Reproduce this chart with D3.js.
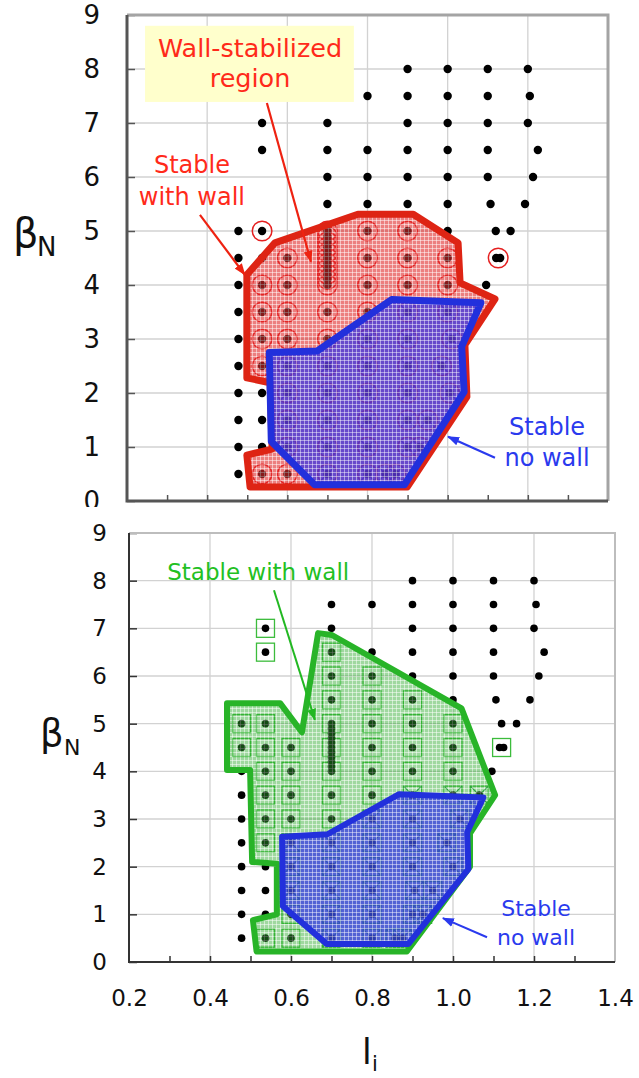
<!DOCTYPE html>
<html><head><meta charset="utf-8">
<script src="https://cdn.jsdelivr.net/npm/d3@7"></script>
<style>
body{margin:0;background:#fff}
svg{display:block}
text{font-family:'DejaVu Sans',Verdana,sans-serif}
</style>
</head><body>
<svg id="c" width="639" height="1078"></svg>
<script>
// ---------- shared ticks ----------
const xTicks = [0.2, 0.4, 0.6, 0.8, 1.0, 1.2, 1.4];
const xMinorTicks = [0.3, 0.4, 0.5, 0.6, 0.7, 0.8, 0.9, 1.0, 1.1, 1.2, 1.3];
const yTicks = [0, 1, 2, 3, 4, 5, 6, 7, 8, 9];

// ---------- top panel data ----------
const topUnstable = [
  [0.9,8],[1.0,8],[1.1,8],[1.2,8],
  [0.8,7.5],[0.9,7.5],[1.0,7.5],[1.1,7.5],[1.205,7.5],
  [0.537,7],[0.7,7],[0.9,7],[1.0,7],[1.1,7],[1.2,7],
  [0.537,6.5],[0.7,6.5],[0.8,6.5],[0.9,6.5],[1.0,6.5],[1.1,6.5],[1.225,6.5],
  [0.7,6],[0.8,6],[0.9,6],[1.0,6],[1.1,6],[1.213,6],
  [0.7,5.5],[0.8,5.5],[0.9,5.5],[1.0,5.5],[1.107,5.5],[1.193,5.5],
  [0.478,5],[1.0,5],[1.12,5],[1.157,5],
  [0.478,4.5],[0.537,4.5],
  [0.478,4],[1.096,4],
  [0.478,3.5],[0.478,3],[0.478,2.5],[0.478,2],[0.478,1.5],[0.478,1],[0.478,0.5],
  [0.537,2],[0.537,1.5],[0.537,1]
];
const topPairDots = [[1.121,4.5],[1.131,4.5]];
const topWallStable = [
  [0.537,5],[0.8,5],[0.9,5],
  [0.6,4.5],[0.8,4.5],[0.9,4.5],[1.0,4.5],[1.126,4.5],
  [0.7,4.0],[0.7,4.1],[0.7,4.2],[0.7,4.3],[0.7,4.4],[0.7,4.5],[0.7,4.6],[0.7,4.7],[0.7,4.8],[0.7,4.9],[0.7,5.0],
  [0.537,4],[0.6,4],[0.8,4],[0.9,4],[1.0,4],
  [0.537,3.5],[0.6,3.5],[0.7,3.5],[0.8,3.5],
  [0.537,3],[0.6,3],[0.7,3],
  [0.537,2.5],
  [0.537,0.5],[0.6,0.5]
];
const topNoWallStable = [
  [0.9,3.5],[1.0,3.5],
  [0.8,3],[0.9,3],[1.01,3],
  [0.6,2.5],[0.7,2.5],[0.8,2.5],[0.9,2.5],[0.985,2.5],
  [0.6,2],[0.7,2],[0.8,2],[0.9,2],[1.005,2],
  [0.6,1.5],[0.7,1.5],[0.8,1.5],[0.9,1.5],[0.95,1.5],
  [0.6,1],[0.7,1],[0.8,1],[0.9,1],[0.93,1],
  [0.7,0.5],[0.8,0.5],[0.845,0.5],[0.87,0.5]
];
const topWallRegion = [
  [0.499,4.19],[0.569,4.78],[0.776,5.31],[0.914,5.31],[1.026,4.78],[1.031,4.04],
  [1.118,3.74],[1.043,2.89],[1.048,1.93],[0.899,0.26],[0.507,0.26],[0.499,0.85],
  [0.562,0.96],[0.557,2.19],[0.499,2.28]
];
const topNoWallRegion = [
  [0.555,2.75],[0.675,2.78],[0.86,3.73],[1.083,3.67],[1.035,2.86],[1.041,2.02],
  [0.892,0.3],[0.668,0.3],[0.56,1.1]
];

// ---------- bottom panel data ----------
const botUnstable = [
  [0.9,8],[1.0,8],[1.1,8],[1.2,8],
  [0.7,7.5],[0.8,7.5],[0.9,7.5],[1.0,7.5],[1.1,7.5],[1.205,7.5],
  [0.7,7],[0.9,7],[1.0,7],[1.1,7],[1.2,7],
  [0.8,6.5],[0.9,6.5],[1.0,6.5],[1.1,6.5],[1.225,6.5],
  [0.9,6],[1.0,6],[1.1,6],[1.212,6],
  [1.0,5.5],[1.106,5.5],[1.19,5.5],
  [1.12,5],[1.157,5],
  [0.478,4],[1.096,4],
  [0.478,3.5],[0.478,3],[0.478,2.5],[0.478,2],[0.478,1.5],[0.478,1],[0.478,0.5],
  [0.537,2],[0.537,1.5],[0.537,1]
];
const botStackDots = [
  [0.7,4.1],[0.7,4.2],[0.7,4.3],[0.7,4.4],[0.7,4.6],[0.7,4.7],[0.7,4.8],[0.7,4.9],
  [1.115,4.5],[1.125,4.5]
];
const botWallStable = [
  [0.537,7],[0.537,6.5],
  [0.7,6.5],
  [0.7,6],[0.8,6],
  [0.7,5.5],[0.8,5.5],[0.9,5.5],
  [0.478,5],[0.537,5],[0.7,5],[0.8,5],[0.9,5],[1.0,5],
  [0.478,4.5],[0.537,4.5],[0.6,4.5],[0.7,4.5],[0.8,4.5],[0.9,4.5],[1.0,4.5],[1.12,4.5],
  [0.537,4],[0.6,4],[0.7,4],[0.8,4],[0.9,4],[1.0,4],
  [0.537,3.5],[0.6,3.5],[0.7,3.5],[0.8,3.5],
  [0.537,3],[0.6,3],[0.7,3],
  [0.537,2.5],
  [0.6,1],
  [0.537,0.5],[0.6,0.5]
];
const botNoWallStable = [
  [0.9,3.5],[1.0,3.5],[1.065,3.5],
  [0.8,3],[0.9,3],[1.017,3],
  [0.6,2.5],[0.7,2.5],[0.8,2.5],[0.9,2.5],[0.985,2.5],
  [0.6,2],[0.7,2],[0.8,2],[0.9,2],[1.0,2],
  [0.6,1.5],[0.7,1.5],[0.8,1.5],[0.905,1.5],[0.95,1.5],
  [0.7,1],[0.8,1],[0.9,1],[0.925,1],
  [0.7,0.5],[0.8,0.5],[0.857,0.5],[0.875,0.5]
];
const botWallRegion = [
  [0.442,5.43],[0.573,5.43],[0.627,4.82],[0.667,6.9],[0.701,6.86],[1.021,5.32],
  [1.104,3.5],[1.042,2.7],[1.042,2.0],[0.886,0.22],[0.515,0.22],[0.506,0.88],
  [0.565,1.0],[0.565,2.06],[0.504,2.1],[0.499,4.03],[0.442,4.03]
];
const botNoWallRegion = [
  [0.578,2.63],[0.69,2.68],[0.867,3.52],[1.075,3.45],[1.035,2.72],[1.038,1.95],
  [0.89,0.38],[0.688,0.38],[0.58,1.17]
];

// ---------- drawing ----------
const svg = d3.select('#c');
const defs = svg.append('defs');

function makePattern(id, color, lineOpacity) {
  const p = defs.append('pattern').attr('id', id)
    .attr('width', 4).attr('height', 4).attr('patternUnits', 'userSpaceOnUse');
  p.append('rect').attr('width', 4).attr('height', 4).attr('fill', color);
  p.append('path').attr('d', 'M0,0.5H4M0.5,0V4')
    .attr('stroke', '#fff').attr('stroke-width', 1).attr('stroke-opacity', lineOpacity);
}
makePattern('patRed', '#e02a2a', 0.5);
makePattern('patBlue', '#3434e8', 0.45);
makePattern('patGreen', '#2aa82a', 0.5);

function makeArrow(id, color) {
  defs.append('marker').attr('id', id)
    .attr('viewBox', '0 0 12 10').attr('refX', 11).attr('refY', 5)
    .attr('markerWidth', 12).attr('markerHeight', 10)
    .attr('markerUnits', 'userSpaceOnUse').attr('orient', 'auto')
    .append('path').attr('d', 'M0,0.5L12,5L0,9.5Z').attr('fill', color);
}
makeArrow('arRed', '#ee2211');
makeArrow('arBlue', '#2a3aee');
makeArrow('arGreen', '#22b822');

defs.append('clipPath').attr('id', 'clipTop')
  .append('rect').attr('x', 0).attr('y', 0).attr('width', 639).attr('height', 507);

function drawPanel(cfg) {
  const g = svg.append('g').attr('clip-path', cfg.clip || null);
  const x = d3.scaleLinear().domain([0.2, 1.4]).range([cfg.left, cfg.right]);
  const y = d3.scaleLinear().domain([0, 9]).range([cfg.bottom, cfg.top]);
  const line = d3.line().x(d => x(d[0])).y(d => y(d[1]));

  // grid
  g.append('g').selectAll('line').data(xTicks.slice(1, -1)).join('line')
    .attr('x1', d => x(d)).attr('x2', d => x(d)).attr('y1', y(0)).attr('y2', y(9))
    .attr('stroke', '#d2d2d2').attr('stroke-width', 1.3);
  g.append('g').selectAll('line').data(yTicks.slice(1, -1)).join('line')
    .attr('y1', d => y(d)).attr('y2', d => y(d)).attr('x1', x(0.2)).attr('x2', x(1.4))
    .attr('stroke', '#d2d2d2').attr('stroke-width', 1.3);

  // markers
  const m = g.append('g');
  const ringed = cfg.wall.concat(cfg.nowall);
  const dots = cfg.unstable.concat(cfg.extra || [], ringed.filter(d => !cfg.noDot || !cfg.noDot(d)));
  if (cfg.kind === 'circle') {
    m.selectAll('circle.ring').data(ringed).join('circle')
      .attr('class', 'ring').attr('cx', d => x(d[0])).attr('cy', d => y(d[1])).attr('r', 9.8)
      .attr('fill', 'none').attr('stroke', '#e52020').attr('stroke-width', 1.5);
  } else {
    m.selectAll('rect.box').data(ringed).join('rect')
      .attr('class', 'box').attr('x', d => x(d[0]) - 9).attr('y', d => y(d[1]) - 9)
      .attr('width', 18).attr('height', 18)
      .attr('fill', 'none').attr('stroke', '#3cbc3c').attr('stroke-width', 1.3);
  }
  const cr = cfg.kind === 'circle' ? 7 : 9;
  m.selectAll('path.xm').data(cfg.nowall).join('path')
    .attr('class', 'xm')
    .attr('d', d => {
      const cx = x(d[0]), cy = y(d[1]);
      return `M${cx - cr},${cy - cr}L${cx + cr},${cy + cr}M${cx - cr},${cy + cr}L${cx + cr},${cy - cr}`;
    })
    .attr('stroke', cfg.kind === 'circle' ? '#3a3ad0' : '#2a9a4a').attr('stroke-width', 1.2);
  m.selectAll('circle.dot').data(dots).join('circle')
    .attr('class', 'dot').attr('cx', d => x(d[0])).attr('cy', d => y(d[1]))
    .attr('r', cfg.dotR).attr('fill', '#000');

  // regions
  g.append('path').attr('d', line(cfg.wallRegion) + 'Z')
    .attr('fill', cfg.wallPat).attr('fill-opacity', cfg.wallOpacity);
  g.append('path').attr('d', line(cfg.wallRegion) + 'Z')
    .attr('fill', 'none').attr('stroke', cfg.wallColor).attr('stroke-width', cfg.strokeW)
    .attr('stroke-linejoin', 'round');
  g.append('path').attr('d', line(cfg.nowallRegion) + 'Z')
    .attr('fill', 'url(#patBlue)').attr('fill-opacity', 0.72);
  g.append('path').attr('d', line(cfg.nowallRegion) + 'Z')
    .attr('fill', 'none').attr('stroke', '#2230dc').attr('stroke-width', cfg.strokeW)
    .attr('stroke-linejoin', 'round');

  // axes
  const ya = g.append('g').attr('transform', `translate(${cfg.left},0)`)
    .call(d3.axisLeft(y).tickValues(yTicks).tickSize(-8).tickSizeOuter(0).tickPadding(cfg.yPad));
  ya.select('.domain').remove();
  ya.selectAll('.tick line').attr('stroke', cfg.axisColor).attr('stroke-width', 1.5);
  ya.selectAll('.tick text').attr('font-size', cfg.yFont).attr('fill', '#111')
    .attr('font-family', "'DejaVu Sans',Verdana,sans-serif");
  const xa = g.append('g').attr('transform', `translate(0,${cfg.bottom})`)
    .call(d3.axisBottom(x).tickValues(xMinorTicks).tickSize(-6).tickSizeOuter(0).tickFormat(''));
  xa.select('.domain').remove();
  xa.selectAll('.tick line').attr('stroke', cfg.axisColor).attr('stroke-width', 1.5);
  if (cfg.xLabels) {
    const xl = g.append('g').attr('transform', `translate(0,${cfg.bottom})`)
      .call(d3.axisBottom(x).tickValues(xTicks).tickSize(0).tickPadding(28).tickFormat(d3.format('.1f')));
    xl.select('.domain').remove();
    xl.selectAll('.tick text').attr('font-size', 23).attr('fill', '#111')
      .attr('font-family', "'DejaVu Sans',Verdana,sans-serif");
  }
  // frame
  g.append('path').attr('d', `M${cfg.left},${cfg.top}H${cfg.right}V${cfg.bottom}`)
    .attr('fill', 'none').attr('stroke', cfg.frameColor).attr('stroke-width', cfg.frameW);
  g.append('path').attr('d', `M${cfg.left},${cfg.top}V${cfg.bottom}H${cfg.right}`)
    .attr('fill', 'none').attr('stroke', cfg.axisColor).attr('stroke-width', cfg.axisW);

  return { g, x, y };
}

// ---- top panel ----
const T = drawPanel({
  left: 127, right: 608, top: 15, bottom: 501, clip: 'url(#clipTop)',
  unstable: topUnstable, extra: topPairDots, wall: topWallStable, nowall: topNoWallStable,
  noDot: d => d[0] === 1.126,
  wallRegion: topWallRegion, nowallRegion: topNoWallRegion,
  kind: 'circle', dotR: 4.2, wallPat: 'url(#patRed)', wallOpacity: 0.6,
  wallColor: '#de2414', strokeW: 7, yPad: 27, yFont: 26,
  axisColor: '#555', axisW: 3, frameColor: '#a4a4a4', frameW: 3, xLabels: false
});
{
  const { g, x, y } = T;
  g.append('rect').attr('x', x(0.245)).attr('y', y(8.8))
    .attr('width', x(0.766) - x(0.245)).attr('height', y(7.39) - y(8.8)).attr('fill', '#ffffcc');
  const red = '#ff2a1a';
  g.append('text').attr('x', x(0.507)).attr('y', y(8.22)).attr('text-anchor', 'middle')
    .attr('font-size', 25.5).attr('fill', red).text('Wall-stabilized');
  g.append('text').attr('x', x(0.507)).attr('y', y(7.67)).attr('text-anchor', 'middle')
    .attr('font-size', 25.5).attr('fill', red).text('region');
  g.append('text').attr('x', x(0.362)).attr('y', y(6.07)).attr('text-anchor', 'middle')
    .attr('font-size', 24).attr('fill', red).text('Stable');
  g.append('text').attr('x', x(0.362)).attr('y', y(5.48)).attr('text-anchor', 'middle')
    .attr('font-size', 24).attr('fill', red).text('with wall');
  g.append('line').attr('x1', x(0.382)).attr('y1', y(5.30)).attr('x2', x(0.494)).attr('y2', y(4.19))
    .attr('stroke', '#ee2211').attr('stroke-width', 2.2).attr('marker-end', 'url(#arRed)');
  g.append('line').attr('x1', x(0.549)).attr('y1', y(7.37)).attr('x2', x(0.659)).attr('y2', y(4.43))
    .attr('stroke', '#ee2211').attr('stroke-width', 2.2).attr('marker-end', 'url(#arRed)');
  const blue = '#2a3aee';
  g.append('text').attr('x', x(1.248)).attr('y', y(1.22)).attr('text-anchor', 'middle')
    .attr('font-size', 24).attr('fill', blue).text('Stable');
  g.append('text').attr('x', x(1.248)).attr('y', y(0.65)).attr('text-anchor', 'middle')
    .attr('font-size', 24).attr('fill', blue).text('no wall');
  g.append('line').attr('x1', x(1.118)).attr('y1', y(0.80)).attr('x2', x(1.001)).attr('y2', y(1.19))
    .attr('stroke', blue).attr('stroke-width', 2.2).attr('marker-end', 'url(#arBlue)');
}

// ---- bottom panel ----
const B = drawPanel({
  left: 129, right: 615, top: 533, bottom: 962, clip: null,
  unstable: botUnstable, extra: botStackDots, wall: botWallStable, nowall: botNoWallStable,
  noDot: d => d[0] === 1.12 && d[1] === 4.5,
  wallRegion: botWallRegion, nowallRegion: botNoWallRegion,
  kind: 'square', dotR: 3.8, wallPat: 'url(#patGreen)', wallOpacity: 0.45,
  wallColor: '#28b428', strokeW: 6, yPad: 22, yFont: 23,
  axisColor: '#333', axisW: 2, frameColor: '#bdbdbd', frameW: 2, xLabels: true
});
{
  const { g, x, y } = B;
  const green = '#22c022';
  g.append('text').attr('x', x(0.519)).attr('y', y(8.01)).attr('text-anchor', 'middle')
    .attr('font-size', 23).attr('fill', green).text('Stable with wall');
  g.append('line').attr('x1', x(0.558)).attr('y1', y(7.80)).attr('x2', x(0.659)).attr('y2', y(5.08))
    .attr('stroke', '#22b822').attr('stroke-width', 2).attr('marker-end', 'url(#arGreen)');
  const blue = '#2a3aee';
  g.append('text').attr('x', x(1.205)).attr('y', y(0.97)).attr('text-anchor', 'middle')
    .attr('font-size', 22).attr('fill', blue).text('Stable');
  g.append('text').attr('x', x(1.205)).attr('y', y(0.36)).attr('text-anchor', 'middle')
    .attr('font-size', 22).attr('fill', blue).text('no wall');
  g.append('line').attr('x1', x(1.084)).attr('y1', y(0.52)).attr('x2', x(0.975)).attr('y2', y(0.92))
    .attr('stroke', blue).attr('stroke-width', 2).attr('marker-end', 'url(#arBlue)');
}

// ---- axis titles ----
svg.append('text').attr('x', 13).attr('y', 247).attr('font-size', 40).attr('fill', '#111').text('β');
svg.append('text').attr('x', 37).attr('y', 256).attr('font-size', 26).attr('fill', '#111').text('N');
svg.append('text').attr('x', 40).attr('y', 746).attr('font-size', 37).attr('fill', '#111').text('β');
svg.append('text').attr('x', 64).attr('y', 755).attr('font-size', 22).attr('fill', '#111').text('N');
svg.append('text').attr('x', 362).attr('y', 1064).attr('font-size', 35).attr('fill', '#111').text('l');
svg.append('text').attr('x', 372).attr('y', 1071).attr('font-size', 21).attr('fill', '#111').text('i');
</script>
</body></html>
